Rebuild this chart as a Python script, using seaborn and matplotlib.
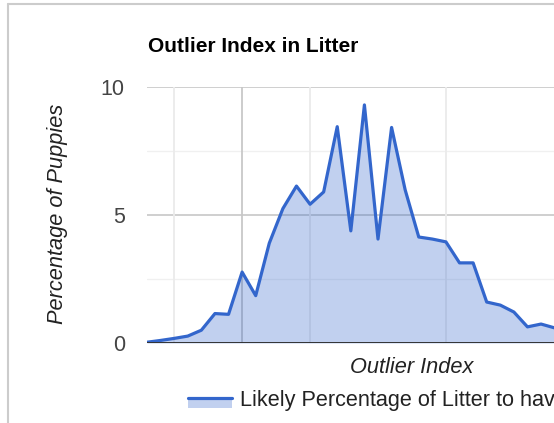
import pandas as pd
import matplotlib
matplotlib.use("Agg")
import matplotlib.pyplot as plt
import seaborn as sns
from matplotlib.lines import Line2D
from matplotlib.patches import Rectangle

# -------------------------------
# Data
# -------------------------------
outlier_index = list(range(31))
percent_puppies = [
    0.03, 0.10, 0.18, 0.27, 0.50, 1.15, 1.12, 2.77, 1.85, 3.90,
    5.25, 6.13, 5.42, 5.90, 8.45, 4.38, 9.30, 4.06, 8.42, 5.98,
    4.14, 4.06, 3.95, 3.13, 3.13, 1.60, 1.48, 1.21, 0.63, 0.74,
    0.59,
]
y_ticks = [0, 5, 10]
y_minor = [2.5, 7.5]
x_grid_light = [2, 12, 22]
x_grid_dark = [7]

title = "Outlier Index in Litter"
x_label = "Outlier Index"
y_label = "Percentage of Puppies"
legend_label = "Likely Percentage of Litter to have Outlier Index"

df = pd.DataFrame({"index": outlier_index, "pct": percent_puppies})

# -------------------------------
# Style
# -------------------------------
sns.set_style("white")
plt.rcParams["font.family"] = ["Liberation Sans", "DejaVu Sans"]

W, H = 554, 423
fig = plt.figure(figsize=(W / 100, H / 100), dpi=100)
ax = fig.add_axes([147 / W, 80 / H, 462 / W, 256 / H])

blue = "#3366cc"

# gridlines
for v in y_minor:
    ax.axhline(v, color="#f0f0f0", lw=1, zorder=0)
for v in y_ticks[1:]:
    ax.axhline(v, color="#cccccc", lw=1.3, zorder=0)
for v in x_grid_light:
    ax.axvline(v, color="#ebebeb", lw=1.3, zorder=0)
for v in x_grid_dark:
    ax.axvline(v, color="#c8c8c8", lw=1.3, zorder=0)

# area + line
ax.fill_between(df["index"], df["pct"], 0, color=blue, alpha=0.3, lw=0, zorder=1)
sns.lineplot(data=df, x="index", y="pct", color=blue, lw=2.3, ax=ax, zorder=2)
ax.axhline(0, color="#333333", lw=1.4, zorder=3)

ax.set_xlim(0, 34)
ax.set_ylim(0, 10)
ax.set_yticks(y_ticks)
ax.set_yticklabels([str(t) for t in y_ticks], color="#444444", fontsize=15.5)
ax.set_xticks([])
ax.tick_params(axis="y", length=0, pad=16)
for s in ax.spines.values():
    s.set_visible(False)
ax.set_xlabel("")
ax.set_ylabel("")

# texts
fig.text(148 / W, 1 - 47 / H, title, fontsize=15, fontweight="bold",
         color="#000000", ha="left", va="center")
fig.text(58 / W, 1 - 214 / H, y_label, fontsize=15.7, fontstyle="italic",
         color="#222222", rotation=90, ha="center", va="center")
fig.text(412 / W, 1 - 367 / H, x_label, fontsize=15.7, fontstyle="italic",
         color="#222222", ha="center", va="center")

# legend
fig.add_artist(Rectangle((188 / W, 1 - 408 / H), 44 / W, 11 / H,
                         transform=fig.transFigure, color=blue, alpha=0.3, lw=0))
fig.add_artist(Line2D([188 / W, 232 / W], [1 - 398 / H, 1 - 398 / H],
                      transform=fig.transFigure, color=blue, lw=2.3))
fig.text(240 / W, 1 - 400 / H, legend_label, fontsize=15.6,
         color="#222222", ha="left", va="center")

# outer border (chart frame, cropped)
fig.add_artist(Line2D([8 / W, 8 / W], [0, 1 - 4 / H], transform=fig.transFigure,
                      color="#cccccc", lw=1.5))
fig.add_artist(Line2D([8 / W, 1], [1 - 4 / H, 1 - 4 / H], transform=fig.transFigure,
                      color="#cccccc", lw=1.5))

fig.savefig("out.png", dpi=100)
